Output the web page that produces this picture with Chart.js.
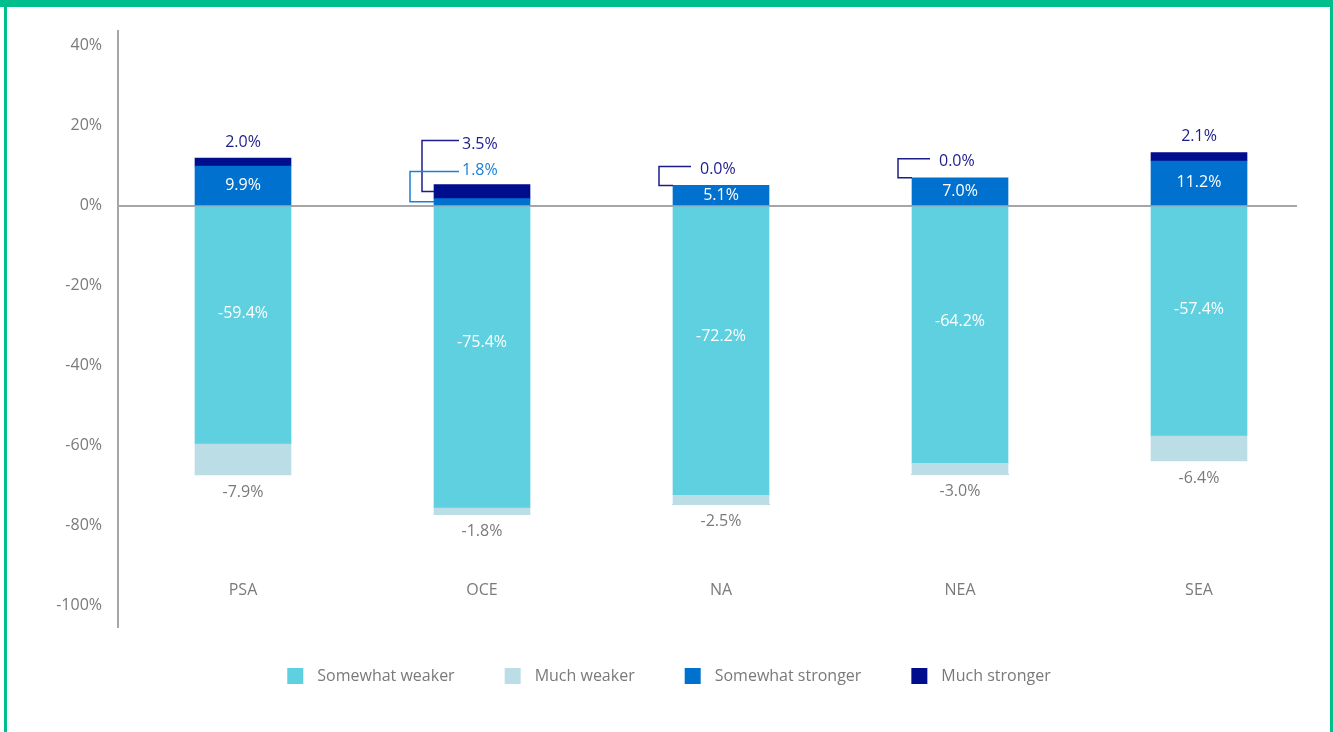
<!DOCTYPE html>
<html>
<head>
<meta charset="utf-8">
<title>Regional outlook</title>
<script src="https://cdn.jsdelivr.net/npm/chart.js@4.4.1/dist/chart.umd.min.js"></script>
<style>
  html, body { margin: 0; padding: 0; background: #fff; }
  #wrap { position: relative; width: 1333px; height: 732px; overflow: hidden; }
  .frame { position: absolute; background: #00bf8c; }
</style>
</head>
<body>
<div id="wrap">
  <canvas id="chart" width="1333" height="732"></canvas>
  <div class="frame" style="left:0;top:0;width:1333px;height:7px"></div>
  <div class="frame" style="left:4px;top:0;width:3px;height:732px"></div>
  <div class="frame" style="left:1330px;top:0;width:3px;height:732px"></div>
</div>
<script>
// --- DATA ---
const categories = ["PSA", "OCE", "NA", "NEA", "SEA"];
const somewhatWeaker = [-59.4, -75.4, -72.2, -64.2, -57.4];
const muchWeaker = [-7.9, -1.8, -2.5, -3.0, -6.4];
const somewhatStronger = [9.9, 1.8, 5.1, 7.0, 11.2];
const muchStronger = [2.0, 3.5, 0.0, 0.0, 2.1];
const yTicks = [-100, -80, -60, -40, -20, 0, 20, 40];

// --- STYLE ---
const FONT = "'Open Sans', 'Noto Sans', sans-serif";
const GREY_TEXT = "#7a7a7a";
const AXIS_GREY = "#a6a6a6";
const NAVY_TEXT = "#1c1c8c";
const BLUE_TEXT = "#1a7fd6";
const COLORS = ["#5fd0df", "#badde6", "#0071ce", "#000d8c"];

Chart.defaults.font.family = FONT;
Chart.defaults.font.size = 16;

const fmt = (v) => v.toFixed(1) + "%";
const toPoints = (arr) => arr.map((v, i) => ({ x: i, y: v }));

// value labels + callouts for the thin segments
const valueLabels = {
  id: "valueLabels",
  afterDatasetsDraw(chart) {
    const ctx = chart.ctx;
    const metas = [0, 1, 2, 3].map((d) => chart.getDatasetMeta(d));
    ctx.save();
    ctx.font = "16px " + FONT;
    ctx.textBaseline = "middle";

    const text = (str, x, y, color, align) => {
      ctx.fillStyle = color;
      ctx.textAlign = align || "center";
      ctx.fillText(str, x, y);
    };
    const callout = (barLeft, segY, lineY, elbowX, lineEnd, color) => {
      ctx.strokeStyle = color;
      ctx.lineWidth = 1.5;
      ctx.beginPath();
      ctx.moveTo(lineEnd, lineY);
      ctx.lineTo(elbowX, lineY);
      ctx.lineTo(elbowX, segY);
      ctx.lineTo(barLeft, segY);
      ctx.stroke();
    };

    categories.forEach((_, i) => {
      const sw = metas[0].data[i];
      const mw = metas[1].data[i];
      const ss = metas[2].data[i];
      const ms = metas[3].data[i];
      const barLeft = sw.x - sw.width / 2;

      // negatives
      text(fmt(somewhatWeaker[i]), sw.x, sw.base + (sw.y - sw.base) * 0.45, "#ffffff");
      text(fmt(muchWeaker[i]), mw.x, mw.y + 17, GREY_TEXT);

      // top of the positive stack (a zero segment may land on the negative side)
      const top = muchStronger[i] > 0 ? ms.y : ss.y;
      if (somewhatStronger[i] < 3) {
        // both positives too thin: stacked callouts
        const tx = barLeft + 28;
        const y1 = top - 40;
        callout(barLeft, (ms.y + ms.base) / 2, y1 - 4, barLeft - 12, tx - 3, NAVY_TEXT);
        text(fmt(muchStronger[i]), tx, y1, NAVY_TEXT, "left");
        const y2 = top - 14;
        callout(barLeft, (ss.y + ss.base) / 2, y2 + 1, barLeft - 24, tx - 3, BLUE_TEXT);
        text(fmt(somewhatStronger[i]), tx, y2, BLUE_TEXT, "left");
        return;
      }

      text(fmt(somewhatStronger[i]), ss.x, (ss.y + ss.base) / 2, "#ffffff");
      if (muchStronger[i] === 0) {
        const tx = barLeft + 27;
        const ly = top - 16;
        callout(barLeft, top, ly - 3, barLeft - 14, tx - 9, NAVY_TEXT);
        text(fmt(muchStronger[i]), tx, ly, NAVY_TEXT, "left");
      } else {
        text(fmt(muchStronger[i]), ms.x, top - 16, NAVY_TEXT);
      }
    });
    ctx.restore();
  },
};

// category names sit inside the plot, above the bottom of the axis line
const categoryLabels = {
  id: "categoryLabels",
  afterDraw(chart) {
    const { ctx, chartArea, scales } = chart;
    ctx.save();
    ctx.font = "16px " + FONT;
    ctx.fillStyle = GREY_TEXT;
    ctx.textAlign = "center";
    ctx.textBaseline = "middle";
    categories.forEach((c, i) => {
      ctx.fillText(c, scales.x.getPixelForValue(i), chartArea.bottom - 37);
    });
    ctx.restore();
  },
};

// legend drawn by hand to get the spacing of the original
const bottomLegend = {
  id: "bottomLegend",
  afterDraw(chart) {
    const ctx = chart.ctx;
    const box = 16, gap = 14, spacing = 50;
    ctx.save();
    ctx.font = "16px " + FONT;
    ctx.textBaseline = "middle";
    ctx.textAlign = "left";
    const items = chart.data.datasets.map((ds) => ({
      label: ds.label,
      color: ds.backgroundColor,
      w: box + gap + ctx.measureText(ds.label).width,
    }));
    const total = items.reduce((s, it) => s + it.w, 0) + spacing * (items.length - 1);
    let x = 669 - total / 2;
    const y = 676;
    items.forEach((it) => {
      ctx.fillStyle = it.color;
      ctx.fillRect(x, y - box / 2, box, box);
      ctx.fillStyle = GREY_TEXT;
      ctx.fillText(it.label, x + box + gap, y);
      x += it.w + spacing;
    });
    ctx.restore();
  },
};

const labels = ["Somewhat weaker", "Much weaker", "Somewhat stronger", "Much stronger"];
const series = [somewhatWeaker, muchWeaker, somewhatStronger, muchStronger];

new Chart(document.getElementById("chart"), {
  type: "bar",
  data: {
    datasets: series.map((s, d) => ({
      label: labels[d],
      data: toPoints(s),
      backgroundColor: COLORS[d],
      borderWidth: 0,
      barThickness: 96,
    })),
  },
  options: {
    responsive: false,
    animation: false,
    devicePixelRatio: 1,
    layout: { padding: { left: 0, right: 36, top: 31, bottom: 105 } },
    plugins: { legend: { display: false }, tooltip: { enabled: false } },
    scales: {
      x: {
        type: "linear",
        stacked: true,
        display: false,
        offset: false,
        min: -0.523,
        max: 4.41,
      },
      y: {
        stacked: true,
        min: -105.3,
        max: 43.7,
        afterBuildTicks: (scale) => {
          scale.ticks = yTicks.map((v) => ({ value: v }));
        },
        afterFit: (scale) => {
          scale.width = 118;
        },
        border: { display: true, color: AXIS_GREY, width: 2 },
        grid: {
          drawTicks: false,
          lineWidth: 2,
          color: (c) => (c.tick && c.tick.value === 0 ? AXIS_GREY : "rgba(0,0,0,0)"),
        },
        ticks: {
          padding: 16,
          color: GREY_TEXT,
          font: { size: 16 },
          callback: (v) => v + "%",
        },
      },
    },
  },
  plugins: [valueLabels, categoryLabels, bottomLegend],
});
</script>
</body>
</html>
